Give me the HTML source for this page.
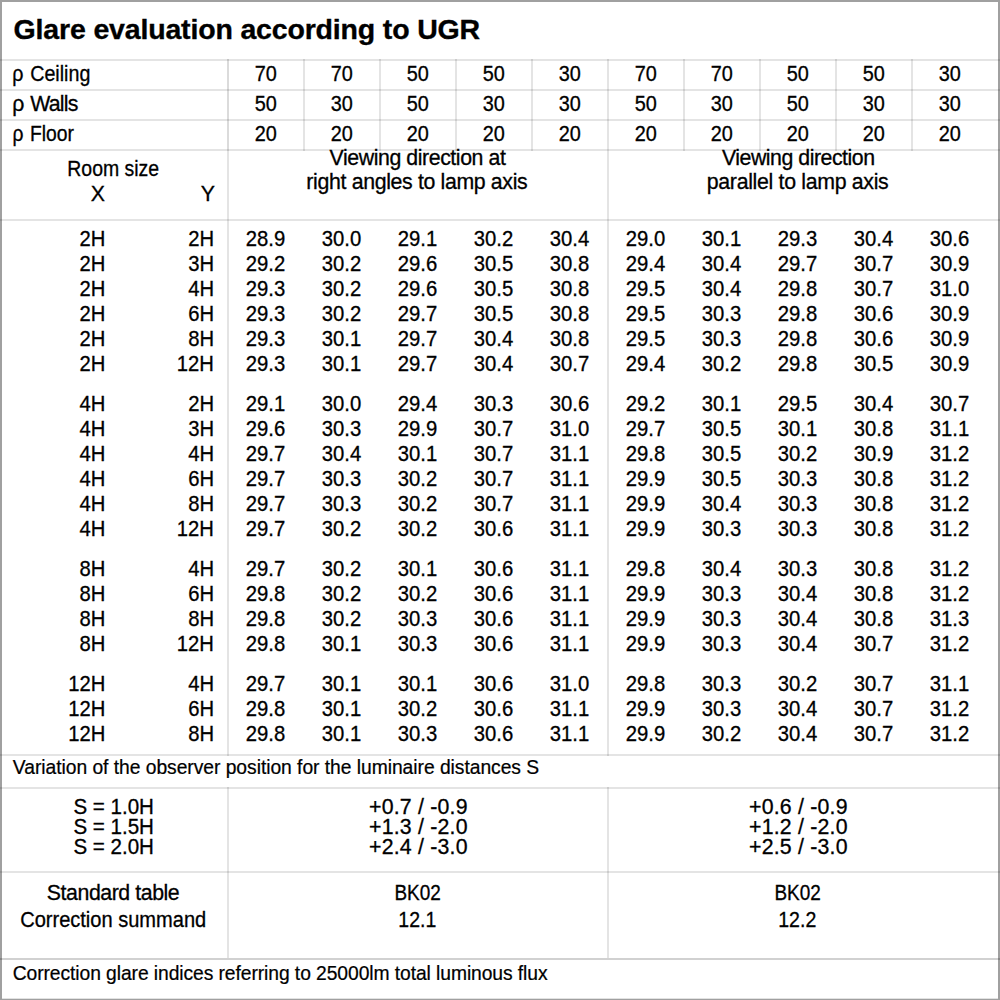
<!DOCTYPE html>
<html lang="en"><head><meta charset="utf-8"><title>Glare evaluation according to UGR</title>
<style>
html,body{margin:0;padding:0;background:#fff}
html{width:1000px;height:1000px;overflow:hidden}
body{width:1000px;height:1000px;position:relative;overflow:hidden;font-family:"Liberation Sans",sans-serif;color:#000}
.fr{position:absolute;background:#a0a0a0}
.h{position:absolute;left:0;width:1000px;height:2px;background:rgba(0,0,0,0.105)}
.v{position:absolute;width:2px;background:rgba(0,0,0,0.105)}
.t{position:absolute;white-space:pre;line-height:24px;height:24px;-webkit-text-stroke:0.3px #000}
.b{font-weight:bold;-webkit-text-stroke:0.35px #000}
</style></head><body>
<div class="fr" style="left:0;top:0;width:1000px;height:2px"></div><div class="fr" style="left:0;top:0;width:2px;height:1000px"></div><div class="fr" style="left:998px;top:0;width:2px;height:1000px"></div><div class="fr" style="left:0;top:999px;width:1000px;height:1px"></div><div class="fr" style="left:2px;top:998px;width:996px;height:1px;opacity:.3"></div>
<div class="h" style="top:59px"></div>
<div class="h" style="top:89px"></div>
<div class="h" style="top:119px"></div>
<div class="h" style="top:149px"></div>
<div class="h" style="top:219px"></div>
<div class="h" style="top:754px"></div>
<div class="h" style="top:787px"></div>
<div class="h" style="top:871px"></div>
<div class="h" style="top:958px;background:rgba(0,0,0,0.18)"></div>
<div class="v" style="left:227px;top:59px;height:697px"></div>
<div class="v" style="left:227px;top:787px;height:171px"></div>
<div class="v" style="left:607px;top:59px;height:697px"></div>
<div class="v" style="left:607px;top:787px;height:171px"></div>
<div class="v" style="left:303px;top:59px;height:92px"></div>
<div class="v" style="left:379px;top:59px;height:92px"></div>
<div class="v" style="left:455px;top:59px;height:92px"></div>
<div class="v" style="left:531px;top:59px;height:92px"></div>
<div class="v" style="left:683px;top:59px;height:92px"></div>
<div class="v" style="left:759px;top:59px;height:92px"></div>
<div class="v" style="left:835px;top:59px;height:92px"></div>
<div class="v" style="left:911px;top:59px;height:92px"></div>
<div class="v" style="left:227px;top:59px;height:92px;background:rgba(0,0,0,0.04)"></div>
<div class="t b" style="font-size:28.5px;top:17px;transform:translateX(-0.40px);transform-origin:0 50%;letter-spacing:-0.168px;left:14px;">Glare evaluation according to UGR</div>
<div class="t" style="font-size:21.3px;top:62px;transform:translateX(-0.67px) scaleX(0.9243);transform-origin:0 50%;word-spacing:1.3px;left:13px;">ρ Ceiling</div>
<div class="t" style="font-size:21.3px;top:92px;transform:translateX(-0.67px);transform-origin:0 50%;letter-spacing:-0.739px;word-spacing:1.3px;left:13px;">ρ Walls</div>
<div class="t" style="font-size:21.3px;top:122px;transform:translateX(-0.62px) scaleX(0.9055);transform-origin:0 50%;word-spacing:1.3px;left:13px;">ρ Floor</div>
<div class="t" style="font-size:21.3px;top:62px;transform:translateX(-0.17px) scaleX(0.9327);transform-origin:50% 50%;left:66px;width:400px;text-align:center;">70</div>
<div class="t" style="font-size:21.3px;top:62px;transform:translateX(-0.17px) scaleX(0.9327);transform-origin:50% 50%;left:142px;width:400px;text-align:center;">70</div>
<div class="t" style="font-size:21.3px;top:62px;transform:translateX(-0.17px) scaleX(0.9327);transform-origin:50% 50%;left:218px;width:400px;text-align:center;">50</div>
<div class="t" style="font-size:21.3px;top:62px;transform:translateX(-0.17px) scaleX(0.9327);transform-origin:50% 50%;left:294px;width:400px;text-align:center;">50</div>
<div class="t" style="font-size:21.3px;top:62px;transform:translateX(-0.17px) scaleX(0.9327);transform-origin:50% 50%;left:370px;width:400px;text-align:center;">30</div>
<div class="t" style="font-size:21.3px;top:62px;transform:translateX(-0.17px) scaleX(0.9327);transform-origin:50% 50%;left:446px;width:400px;text-align:center;">70</div>
<div class="t" style="font-size:21.3px;top:62px;transform:translateX(-0.17px) scaleX(0.9327);transform-origin:50% 50%;left:522px;width:400px;text-align:center;">70</div>
<div class="t" style="font-size:21.3px;top:62px;transform:translateX(-0.17px) scaleX(0.9327);transform-origin:50% 50%;left:599px;width:398px;text-align:center;">50</div>
<div class="t" style="font-size:21.3px;top:62px;transform:translateX(-0.17px) scaleX(0.9327);transform-origin:50% 50%;left:751px;width:246px;text-align:center;">50</div>
<div class="t" style="font-size:21.3px;top:62px;transform:translateX(-0.17px) scaleX(0.9327);transform-origin:50% 50%;left:903px;width:94px;text-align:center;">30</div>
<div class="t" style="font-size:21.3px;top:92px;transform:translateX(-0.17px) scaleX(0.9327);transform-origin:50% 50%;left:66px;width:400px;text-align:center;">50</div>
<div class="t" style="font-size:21.3px;top:92px;transform:translateX(-0.17px) scaleX(0.9327);transform-origin:50% 50%;left:142px;width:400px;text-align:center;">30</div>
<div class="t" style="font-size:21.3px;top:92px;transform:translateX(-0.17px) scaleX(0.9327);transform-origin:50% 50%;left:218px;width:400px;text-align:center;">50</div>
<div class="t" style="font-size:21.3px;top:92px;transform:translateX(-0.17px) scaleX(0.9327);transform-origin:50% 50%;left:294px;width:400px;text-align:center;">30</div>
<div class="t" style="font-size:21.3px;top:92px;transform:translateX(-0.17px) scaleX(0.9327);transform-origin:50% 50%;left:370px;width:400px;text-align:center;">30</div>
<div class="t" style="font-size:21.3px;top:92px;transform:translateX(-0.17px) scaleX(0.9327);transform-origin:50% 50%;left:446px;width:400px;text-align:center;">50</div>
<div class="t" style="font-size:21.3px;top:92px;transform:translateX(-0.17px) scaleX(0.9327);transform-origin:50% 50%;left:522px;width:400px;text-align:center;">30</div>
<div class="t" style="font-size:21.3px;top:92px;transform:translateX(-0.17px) scaleX(0.9327);transform-origin:50% 50%;left:599px;width:398px;text-align:center;">50</div>
<div class="t" style="font-size:21.3px;top:92px;transform:translateX(-0.17px) scaleX(0.9327);transform-origin:50% 50%;left:751px;width:246px;text-align:center;">30</div>
<div class="t" style="font-size:21.3px;top:92px;transform:translateX(-0.17px) scaleX(0.9327);transform-origin:50% 50%;left:903px;width:94px;text-align:center;">30</div>
<div class="t" style="font-size:21.3px;top:122px;transform:translateX(-0.17px) scaleX(0.9327);transform-origin:50% 50%;left:66px;width:400px;text-align:center;">20</div>
<div class="t" style="font-size:21.3px;top:122px;transform:translateX(-0.17px) scaleX(0.9327);transform-origin:50% 50%;left:142px;width:400px;text-align:center;">20</div>
<div class="t" style="font-size:21.3px;top:122px;transform:translateX(-0.17px) scaleX(0.9327);transform-origin:50% 50%;left:218px;width:400px;text-align:center;">20</div>
<div class="t" style="font-size:21.3px;top:122px;transform:translateX(-0.17px) scaleX(0.9327);transform-origin:50% 50%;left:294px;width:400px;text-align:center;">20</div>
<div class="t" style="font-size:21.3px;top:122px;transform:translateX(-0.17px) scaleX(0.9327);transform-origin:50% 50%;left:370px;width:400px;text-align:center;">20</div>
<div class="t" style="font-size:21.3px;top:122px;transform:translateX(-0.17px) scaleX(0.9327);transform-origin:50% 50%;left:446px;width:400px;text-align:center;">20</div>
<div class="t" style="font-size:21.3px;top:122px;transform:translateX(-0.17px) scaleX(0.9327);transform-origin:50% 50%;left:522px;width:400px;text-align:center;">20</div>
<div class="t" style="font-size:21.3px;top:122px;transform:translateX(-0.17px) scaleX(0.9327);transform-origin:50% 50%;left:599px;width:398px;text-align:center;">20</div>
<div class="t" style="font-size:21.3px;top:122px;transform:translateX(-0.17px) scaleX(0.9327);transform-origin:50% 50%;left:751px;width:246px;text-align:center;">20</div>
<div class="t" style="font-size:21.3px;top:122px;transform:translateX(-0.17px) scaleX(0.9327);transform-origin:50% 50%;left:903px;width:94px;text-align:center;">20</div>
<div class="t" style="font-size:21.3px;top:157px;transform:translateX(0.24px) scaleX(0.9128);transform-origin:50% 50%;left:3px;width:220px;text-align:center;">Room size</div>
<div class="t" style="font-size:21.3px;top:182px;transform:translateX(0.85px);transform-origin:100% 50%;right:896px;">X</div>
<div class="t" style="font-size:21.3px;top:182px;transform:translateX(0.86px);transform-origin:100% 50%;right:786px;">Y</div>
<div class="t" style="font-size:21.3px;top:146px;transform:translateX(0.51px);transform-origin:50% 50%;letter-spacing:-0.422px;left:217px;width:400px;text-align:center;">Viewing direction at</div>
<div class="t" style="font-size:21.3px;top:170px;transform:translateX(-0.14px);transform-origin:50% 50%;letter-spacing:-0.346px;left:217px;width:400px;text-align:center;">right angles to lamp axis</div>
<div class="t" style="font-size:21.3px;top:146px;transform:translateX(1.22px);transform-origin:50% 50%;letter-spacing:-0.469px;left:597px;width:400px;text-align:center;">Viewing direction</div>
<div class="t" style="font-size:21.3px;top:170px;transform:translateX(-0.38px);transform-origin:50% 50%;letter-spacing:-0.315px;left:599px;width:398px;text-align:center;">parallel to lamp axis</div>
<div class="t" style="font-size:21.3px;top:227px;transform:translateX(2.23px) scaleX(0.9490);transform-origin:100% 50%;right:897px;">2H</div>
<div class="t" style="font-size:21.3px;top:227px;transform:translateX(1.83px) scaleX(0.9490);transform-origin:100% 50%;right:788px;">2H</div>
<div class="t" style="font-size:21.3px;top:227px;transform:translateX(0.53px) scaleX(0.9517);transform-origin:50% 50%;left:65px;width:400px;text-align:center;">28.9</div>
<div class="t" style="font-size:21.3px;top:227px;transform:translateX(0.53px) scaleX(0.9517);transform-origin:50% 50%;left:141px;width:400px;text-align:center;">30.0</div>
<div class="t" style="font-size:21.3px;top:227px;transform:translateX(0.53px) scaleX(0.9517);transform-origin:50% 50%;left:217px;width:400px;text-align:center;">29.1</div>
<div class="t" style="font-size:21.3px;top:227px;transform:translateX(0.53px) scaleX(0.9517);transform-origin:50% 50%;left:293px;width:400px;text-align:center;">30.2</div>
<div class="t" style="font-size:21.3px;top:227px;transform:translateX(0.53px) scaleX(0.9517);transform-origin:50% 50%;left:369px;width:400px;text-align:center;">30.4</div>
<div class="t" style="font-size:21.3px;top:227px;transform:translateX(0.53px) scaleX(0.9517);transform-origin:50% 50%;left:445px;width:400px;text-align:center;">29.0</div>
<div class="t" style="font-size:21.3px;top:227px;transform:translateX(0.53px) scaleX(0.9517);transform-origin:50% 50%;left:521px;width:400px;text-align:center;">30.1</div>
<div class="t" style="font-size:21.3px;top:227px;transform:translateX(0.53px) scaleX(0.9517);transform-origin:50% 50%;left:597px;width:400px;text-align:center;">29.3</div>
<div class="t" style="font-size:21.3px;top:227px;transform:translateX(0.53px) scaleX(0.9517);transform-origin:50% 50%;left:749px;width:248px;text-align:center;">30.4</div>
<div class="t" style="font-size:21.3px;top:227px;transform:translateX(0.53px) scaleX(0.9517);transform-origin:50% 50%;left:901px;width:96px;text-align:center;">30.6</div>
<div class="t" style="font-size:21.3px;top:252px;transform:translateX(2.23px) scaleX(0.9490);transform-origin:100% 50%;right:897px;">2H</div>
<div class="t" style="font-size:21.3px;top:252px;transform:translateX(1.83px) scaleX(0.9490);transform-origin:100% 50%;right:788px;">3H</div>
<div class="t" style="font-size:21.3px;top:252px;transform:translateX(0.53px) scaleX(0.9517);transform-origin:50% 50%;left:65px;width:400px;text-align:center;">29.2</div>
<div class="t" style="font-size:21.3px;top:252px;transform:translateX(0.53px) scaleX(0.9517);transform-origin:50% 50%;left:141px;width:400px;text-align:center;">30.2</div>
<div class="t" style="font-size:21.3px;top:252px;transform:translateX(0.53px) scaleX(0.9517);transform-origin:50% 50%;left:217px;width:400px;text-align:center;">29.6</div>
<div class="t" style="font-size:21.3px;top:252px;transform:translateX(0.53px) scaleX(0.9517);transform-origin:50% 50%;left:293px;width:400px;text-align:center;">30.5</div>
<div class="t" style="font-size:21.3px;top:252px;transform:translateX(0.53px) scaleX(0.9517);transform-origin:50% 50%;left:369px;width:400px;text-align:center;">30.8</div>
<div class="t" style="font-size:21.3px;top:252px;transform:translateX(0.53px) scaleX(0.9517);transform-origin:50% 50%;left:445px;width:400px;text-align:center;">29.4</div>
<div class="t" style="font-size:21.3px;top:252px;transform:translateX(0.53px) scaleX(0.9517);transform-origin:50% 50%;left:521px;width:400px;text-align:center;">30.4</div>
<div class="t" style="font-size:21.3px;top:252px;transform:translateX(0.53px) scaleX(0.9517);transform-origin:50% 50%;left:597px;width:400px;text-align:center;">29.7</div>
<div class="t" style="font-size:21.3px;top:252px;transform:translateX(0.53px) scaleX(0.9517);transform-origin:50% 50%;left:749px;width:248px;text-align:center;">30.7</div>
<div class="t" style="font-size:21.3px;top:252px;transform:translateX(0.53px) scaleX(0.9517);transform-origin:50% 50%;left:901px;width:96px;text-align:center;">30.9</div>
<div class="t" style="font-size:21.3px;top:277px;transform:translateX(2.23px) scaleX(0.9490);transform-origin:100% 50%;right:897px;">2H</div>
<div class="t" style="font-size:21.3px;top:277px;transform:translateX(1.83px) scaleX(0.9490);transform-origin:100% 50%;right:788px;">4H</div>
<div class="t" style="font-size:21.3px;top:277px;transform:translateX(0.53px) scaleX(0.9517);transform-origin:50% 50%;left:65px;width:400px;text-align:center;">29.3</div>
<div class="t" style="font-size:21.3px;top:277px;transform:translateX(0.53px) scaleX(0.9517);transform-origin:50% 50%;left:141px;width:400px;text-align:center;">30.2</div>
<div class="t" style="font-size:21.3px;top:277px;transform:translateX(0.53px) scaleX(0.9517);transform-origin:50% 50%;left:217px;width:400px;text-align:center;">29.6</div>
<div class="t" style="font-size:21.3px;top:277px;transform:translateX(0.53px) scaleX(0.9517);transform-origin:50% 50%;left:293px;width:400px;text-align:center;">30.5</div>
<div class="t" style="font-size:21.3px;top:277px;transform:translateX(0.53px) scaleX(0.9517);transform-origin:50% 50%;left:369px;width:400px;text-align:center;">30.8</div>
<div class="t" style="font-size:21.3px;top:277px;transform:translateX(0.53px) scaleX(0.9517);transform-origin:50% 50%;left:445px;width:400px;text-align:center;">29.5</div>
<div class="t" style="font-size:21.3px;top:277px;transform:translateX(0.53px) scaleX(0.9517);transform-origin:50% 50%;left:521px;width:400px;text-align:center;">30.4</div>
<div class="t" style="font-size:21.3px;top:277px;transform:translateX(0.53px) scaleX(0.9517);transform-origin:50% 50%;left:597px;width:400px;text-align:center;">29.8</div>
<div class="t" style="font-size:21.3px;top:277px;transform:translateX(0.53px) scaleX(0.9517);transform-origin:50% 50%;left:749px;width:248px;text-align:center;">30.7</div>
<div class="t" style="font-size:21.3px;top:277px;transform:translateX(0.53px) scaleX(0.9517);transform-origin:50% 50%;left:901px;width:96px;text-align:center;">31.0</div>
<div class="t" style="font-size:21.3px;top:302px;transform:translateX(2.23px) scaleX(0.9490);transform-origin:100% 50%;right:897px;">2H</div>
<div class="t" style="font-size:21.3px;top:302px;transform:translateX(1.83px) scaleX(0.9490);transform-origin:100% 50%;right:788px;">6H</div>
<div class="t" style="font-size:21.3px;top:302px;transform:translateX(0.53px) scaleX(0.9517);transform-origin:50% 50%;left:65px;width:400px;text-align:center;">29.3</div>
<div class="t" style="font-size:21.3px;top:302px;transform:translateX(0.53px) scaleX(0.9517);transform-origin:50% 50%;left:141px;width:400px;text-align:center;">30.2</div>
<div class="t" style="font-size:21.3px;top:302px;transform:translateX(0.53px) scaleX(0.9517);transform-origin:50% 50%;left:217px;width:400px;text-align:center;">29.7</div>
<div class="t" style="font-size:21.3px;top:302px;transform:translateX(0.53px) scaleX(0.9517);transform-origin:50% 50%;left:293px;width:400px;text-align:center;">30.5</div>
<div class="t" style="font-size:21.3px;top:302px;transform:translateX(0.53px) scaleX(0.9517);transform-origin:50% 50%;left:369px;width:400px;text-align:center;">30.8</div>
<div class="t" style="font-size:21.3px;top:302px;transform:translateX(0.53px) scaleX(0.9517);transform-origin:50% 50%;left:445px;width:400px;text-align:center;">29.5</div>
<div class="t" style="font-size:21.3px;top:302px;transform:translateX(0.53px) scaleX(0.9517);transform-origin:50% 50%;left:521px;width:400px;text-align:center;">30.3</div>
<div class="t" style="font-size:21.3px;top:302px;transform:translateX(0.53px) scaleX(0.9517);transform-origin:50% 50%;left:597px;width:400px;text-align:center;">29.8</div>
<div class="t" style="font-size:21.3px;top:302px;transform:translateX(0.53px) scaleX(0.9517);transform-origin:50% 50%;left:749px;width:248px;text-align:center;">30.6</div>
<div class="t" style="font-size:21.3px;top:302px;transform:translateX(0.53px) scaleX(0.9517);transform-origin:50% 50%;left:901px;width:96px;text-align:center;">30.9</div>
<div class="t" style="font-size:21.3px;top:327px;transform:translateX(2.23px) scaleX(0.9490);transform-origin:100% 50%;right:897px;">2H</div>
<div class="t" style="font-size:21.3px;top:327px;transform:translateX(1.83px) scaleX(0.9490);transform-origin:100% 50%;right:788px;">8H</div>
<div class="t" style="font-size:21.3px;top:327px;transform:translateX(0.53px) scaleX(0.9517);transform-origin:50% 50%;left:65px;width:400px;text-align:center;">29.3</div>
<div class="t" style="font-size:21.3px;top:327px;transform:translateX(0.53px) scaleX(0.9517);transform-origin:50% 50%;left:141px;width:400px;text-align:center;">30.1</div>
<div class="t" style="font-size:21.3px;top:327px;transform:translateX(0.53px) scaleX(0.9517);transform-origin:50% 50%;left:217px;width:400px;text-align:center;">29.7</div>
<div class="t" style="font-size:21.3px;top:327px;transform:translateX(0.53px) scaleX(0.9517);transform-origin:50% 50%;left:293px;width:400px;text-align:center;">30.4</div>
<div class="t" style="font-size:21.3px;top:327px;transform:translateX(0.53px) scaleX(0.9517);transform-origin:50% 50%;left:369px;width:400px;text-align:center;">30.8</div>
<div class="t" style="font-size:21.3px;top:327px;transform:translateX(0.53px) scaleX(0.9517);transform-origin:50% 50%;left:445px;width:400px;text-align:center;">29.5</div>
<div class="t" style="font-size:21.3px;top:327px;transform:translateX(0.53px) scaleX(0.9517);transform-origin:50% 50%;left:521px;width:400px;text-align:center;">30.3</div>
<div class="t" style="font-size:21.3px;top:327px;transform:translateX(0.53px) scaleX(0.9517);transform-origin:50% 50%;left:597px;width:400px;text-align:center;">29.8</div>
<div class="t" style="font-size:21.3px;top:327px;transform:translateX(0.53px) scaleX(0.9517);transform-origin:50% 50%;left:749px;width:248px;text-align:center;">30.6</div>
<div class="t" style="font-size:21.3px;top:327px;transform:translateX(0.53px) scaleX(0.9517);transform-origin:50% 50%;left:901px;width:96px;text-align:center;">30.9</div>
<div class="t" style="font-size:21.3px;top:352px;transform:translateX(2.23px) scaleX(0.9490);transform-origin:100% 50%;right:897px;">2H</div>
<div class="t" style="font-size:21.3px;top:352px;transform:translateX(1.83px) scaleX(0.9490);transform-origin:100% 50%;right:788px;">12H</div>
<div class="t" style="font-size:21.3px;top:352px;transform:translateX(0.53px) scaleX(0.9517);transform-origin:50% 50%;left:65px;width:400px;text-align:center;">29.3</div>
<div class="t" style="font-size:21.3px;top:352px;transform:translateX(0.53px) scaleX(0.9517);transform-origin:50% 50%;left:141px;width:400px;text-align:center;">30.1</div>
<div class="t" style="font-size:21.3px;top:352px;transform:translateX(0.53px) scaleX(0.9517);transform-origin:50% 50%;left:217px;width:400px;text-align:center;">29.7</div>
<div class="t" style="font-size:21.3px;top:352px;transform:translateX(0.53px) scaleX(0.9517);transform-origin:50% 50%;left:293px;width:400px;text-align:center;">30.4</div>
<div class="t" style="font-size:21.3px;top:352px;transform:translateX(0.53px) scaleX(0.9517);transform-origin:50% 50%;left:369px;width:400px;text-align:center;">30.7</div>
<div class="t" style="font-size:21.3px;top:352px;transform:translateX(0.53px) scaleX(0.9517);transform-origin:50% 50%;left:445px;width:400px;text-align:center;">29.4</div>
<div class="t" style="font-size:21.3px;top:352px;transform:translateX(0.53px) scaleX(0.9517);transform-origin:50% 50%;left:521px;width:400px;text-align:center;">30.2</div>
<div class="t" style="font-size:21.3px;top:352px;transform:translateX(0.53px) scaleX(0.9517);transform-origin:50% 50%;left:597px;width:400px;text-align:center;">29.8</div>
<div class="t" style="font-size:21.3px;top:352px;transform:translateX(0.53px) scaleX(0.9517);transform-origin:50% 50%;left:749px;width:248px;text-align:center;">30.5</div>
<div class="t" style="font-size:21.3px;top:352px;transform:translateX(0.53px) scaleX(0.9517);transform-origin:50% 50%;left:901px;width:96px;text-align:center;">30.9</div>
<div class="t" style="font-size:21.3px;top:392px;transform:translateX(2.23px) scaleX(0.9490);transform-origin:100% 50%;right:897px;">4H</div>
<div class="t" style="font-size:21.3px;top:392px;transform:translateX(1.83px) scaleX(0.9490);transform-origin:100% 50%;right:788px;">2H</div>
<div class="t" style="font-size:21.3px;top:392px;transform:translateX(0.53px) scaleX(0.9517);transform-origin:50% 50%;left:65px;width:400px;text-align:center;">29.1</div>
<div class="t" style="font-size:21.3px;top:392px;transform:translateX(0.53px) scaleX(0.9517);transform-origin:50% 50%;left:141px;width:400px;text-align:center;">30.0</div>
<div class="t" style="font-size:21.3px;top:392px;transform:translateX(0.53px) scaleX(0.9517);transform-origin:50% 50%;left:217px;width:400px;text-align:center;">29.4</div>
<div class="t" style="font-size:21.3px;top:392px;transform:translateX(0.53px) scaleX(0.9517);transform-origin:50% 50%;left:293px;width:400px;text-align:center;">30.3</div>
<div class="t" style="font-size:21.3px;top:392px;transform:translateX(0.53px) scaleX(0.9517);transform-origin:50% 50%;left:369px;width:400px;text-align:center;">30.6</div>
<div class="t" style="font-size:21.3px;top:392px;transform:translateX(0.53px) scaleX(0.9517);transform-origin:50% 50%;left:445px;width:400px;text-align:center;">29.2</div>
<div class="t" style="font-size:21.3px;top:392px;transform:translateX(0.53px) scaleX(0.9517);transform-origin:50% 50%;left:521px;width:400px;text-align:center;">30.1</div>
<div class="t" style="font-size:21.3px;top:392px;transform:translateX(0.53px) scaleX(0.9517);transform-origin:50% 50%;left:597px;width:400px;text-align:center;">29.5</div>
<div class="t" style="font-size:21.3px;top:392px;transform:translateX(0.53px) scaleX(0.9517);transform-origin:50% 50%;left:749px;width:248px;text-align:center;">30.4</div>
<div class="t" style="font-size:21.3px;top:392px;transform:translateX(0.53px) scaleX(0.9517);transform-origin:50% 50%;left:901px;width:96px;text-align:center;">30.7</div>
<div class="t" style="font-size:21.3px;top:417px;transform:translateX(2.23px) scaleX(0.9490);transform-origin:100% 50%;right:897px;">4H</div>
<div class="t" style="font-size:21.3px;top:417px;transform:translateX(1.83px) scaleX(0.9490);transform-origin:100% 50%;right:788px;">3H</div>
<div class="t" style="font-size:21.3px;top:417px;transform:translateX(0.53px) scaleX(0.9517);transform-origin:50% 50%;left:65px;width:400px;text-align:center;">29.6</div>
<div class="t" style="font-size:21.3px;top:417px;transform:translateX(0.53px) scaleX(0.9517);transform-origin:50% 50%;left:141px;width:400px;text-align:center;">30.3</div>
<div class="t" style="font-size:21.3px;top:417px;transform:translateX(0.53px) scaleX(0.9517);transform-origin:50% 50%;left:217px;width:400px;text-align:center;">29.9</div>
<div class="t" style="font-size:21.3px;top:417px;transform:translateX(0.53px) scaleX(0.9517);transform-origin:50% 50%;left:293px;width:400px;text-align:center;">30.7</div>
<div class="t" style="font-size:21.3px;top:417px;transform:translateX(0.53px) scaleX(0.9517);transform-origin:50% 50%;left:369px;width:400px;text-align:center;">31.0</div>
<div class="t" style="font-size:21.3px;top:417px;transform:translateX(0.53px) scaleX(0.9517);transform-origin:50% 50%;left:445px;width:400px;text-align:center;">29.7</div>
<div class="t" style="font-size:21.3px;top:417px;transform:translateX(0.53px) scaleX(0.9517);transform-origin:50% 50%;left:521px;width:400px;text-align:center;">30.5</div>
<div class="t" style="font-size:21.3px;top:417px;transform:translateX(0.53px) scaleX(0.9517);transform-origin:50% 50%;left:597px;width:400px;text-align:center;">30.1</div>
<div class="t" style="font-size:21.3px;top:417px;transform:translateX(0.53px) scaleX(0.9517);transform-origin:50% 50%;left:749px;width:248px;text-align:center;">30.8</div>
<div class="t" style="font-size:21.3px;top:417px;transform:translateX(0.53px) scaleX(0.9517);transform-origin:50% 50%;left:901px;width:96px;text-align:center;">31.1</div>
<div class="t" style="font-size:21.3px;top:442px;transform:translateX(2.23px) scaleX(0.9490);transform-origin:100% 50%;right:897px;">4H</div>
<div class="t" style="font-size:21.3px;top:442px;transform:translateX(1.83px) scaleX(0.9490);transform-origin:100% 50%;right:788px;">4H</div>
<div class="t" style="font-size:21.3px;top:442px;transform:translateX(0.53px) scaleX(0.9517);transform-origin:50% 50%;left:65px;width:400px;text-align:center;">29.7</div>
<div class="t" style="font-size:21.3px;top:442px;transform:translateX(0.53px) scaleX(0.9517);transform-origin:50% 50%;left:141px;width:400px;text-align:center;">30.4</div>
<div class="t" style="font-size:21.3px;top:442px;transform:translateX(0.53px) scaleX(0.9517);transform-origin:50% 50%;left:217px;width:400px;text-align:center;">30.1</div>
<div class="t" style="font-size:21.3px;top:442px;transform:translateX(0.53px) scaleX(0.9517);transform-origin:50% 50%;left:293px;width:400px;text-align:center;">30.7</div>
<div class="t" style="font-size:21.3px;top:442px;transform:translateX(0.53px) scaleX(0.9517);transform-origin:50% 50%;left:369px;width:400px;text-align:center;">31.1</div>
<div class="t" style="font-size:21.3px;top:442px;transform:translateX(0.53px) scaleX(0.9517);transform-origin:50% 50%;left:445px;width:400px;text-align:center;">29.8</div>
<div class="t" style="font-size:21.3px;top:442px;transform:translateX(0.53px) scaleX(0.9517);transform-origin:50% 50%;left:521px;width:400px;text-align:center;">30.5</div>
<div class="t" style="font-size:21.3px;top:442px;transform:translateX(0.53px) scaleX(0.9517);transform-origin:50% 50%;left:597px;width:400px;text-align:center;">30.2</div>
<div class="t" style="font-size:21.3px;top:442px;transform:translateX(0.53px) scaleX(0.9517);transform-origin:50% 50%;left:749px;width:248px;text-align:center;">30.9</div>
<div class="t" style="font-size:21.3px;top:442px;transform:translateX(0.53px) scaleX(0.9517);transform-origin:50% 50%;left:901px;width:96px;text-align:center;">31.2</div>
<div class="t" style="font-size:21.3px;top:467px;transform:translateX(2.23px) scaleX(0.9490);transform-origin:100% 50%;right:897px;">4H</div>
<div class="t" style="font-size:21.3px;top:467px;transform:translateX(1.83px) scaleX(0.9490);transform-origin:100% 50%;right:788px;">6H</div>
<div class="t" style="font-size:21.3px;top:467px;transform:translateX(0.53px) scaleX(0.9517);transform-origin:50% 50%;left:65px;width:400px;text-align:center;">29.7</div>
<div class="t" style="font-size:21.3px;top:467px;transform:translateX(0.53px) scaleX(0.9517);transform-origin:50% 50%;left:141px;width:400px;text-align:center;">30.3</div>
<div class="t" style="font-size:21.3px;top:467px;transform:translateX(0.53px) scaleX(0.9517);transform-origin:50% 50%;left:217px;width:400px;text-align:center;">30.2</div>
<div class="t" style="font-size:21.3px;top:467px;transform:translateX(0.53px) scaleX(0.9517);transform-origin:50% 50%;left:293px;width:400px;text-align:center;">30.7</div>
<div class="t" style="font-size:21.3px;top:467px;transform:translateX(0.53px) scaleX(0.9517);transform-origin:50% 50%;left:369px;width:400px;text-align:center;">31.1</div>
<div class="t" style="font-size:21.3px;top:467px;transform:translateX(0.53px) scaleX(0.9517);transform-origin:50% 50%;left:445px;width:400px;text-align:center;">29.9</div>
<div class="t" style="font-size:21.3px;top:467px;transform:translateX(0.53px) scaleX(0.9517);transform-origin:50% 50%;left:521px;width:400px;text-align:center;">30.5</div>
<div class="t" style="font-size:21.3px;top:467px;transform:translateX(0.53px) scaleX(0.9517);transform-origin:50% 50%;left:597px;width:400px;text-align:center;">30.3</div>
<div class="t" style="font-size:21.3px;top:467px;transform:translateX(0.53px) scaleX(0.9517);transform-origin:50% 50%;left:749px;width:248px;text-align:center;">30.8</div>
<div class="t" style="font-size:21.3px;top:467px;transform:translateX(0.53px) scaleX(0.9517);transform-origin:50% 50%;left:901px;width:96px;text-align:center;">31.2</div>
<div class="t" style="font-size:21.3px;top:492px;transform:translateX(2.23px) scaleX(0.9490);transform-origin:100% 50%;right:897px;">4H</div>
<div class="t" style="font-size:21.3px;top:492px;transform:translateX(1.83px) scaleX(0.9490);transform-origin:100% 50%;right:788px;">8H</div>
<div class="t" style="font-size:21.3px;top:492px;transform:translateX(0.53px) scaleX(0.9517);transform-origin:50% 50%;left:65px;width:400px;text-align:center;">29.7</div>
<div class="t" style="font-size:21.3px;top:492px;transform:translateX(0.53px) scaleX(0.9517);transform-origin:50% 50%;left:141px;width:400px;text-align:center;">30.3</div>
<div class="t" style="font-size:21.3px;top:492px;transform:translateX(0.53px) scaleX(0.9517);transform-origin:50% 50%;left:217px;width:400px;text-align:center;">30.2</div>
<div class="t" style="font-size:21.3px;top:492px;transform:translateX(0.53px) scaleX(0.9517);transform-origin:50% 50%;left:293px;width:400px;text-align:center;">30.7</div>
<div class="t" style="font-size:21.3px;top:492px;transform:translateX(0.53px) scaleX(0.9517);transform-origin:50% 50%;left:369px;width:400px;text-align:center;">31.1</div>
<div class="t" style="font-size:21.3px;top:492px;transform:translateX(0.53px) scaleX(0.9517);transform-origin:50% 50%;left:445px;width:400px;text-align:center;">29.9</div>
<div class="t" style="font-size:21.3px;top:492px;transform:translateX(0.53px) scaleX(0.9517);transform-origin:50% 50%;left:521px;width:400px;text-align:center;">30.4</div>
<div class="t" style="font-size:21.3px;top:492px;transform:translateX(0.53px) scaleX(0.9517);transform-origin:50% 50%;left:597px;width:400px;text-align:center;">30.3</div>
<div class="t" style="font-size:21.3px;top:492px;transform:translateX(0.53px) scaleX(0.9517);transform-origin:50% 50%;left:749px;width:248px;text-align:center;">30.8</div>
<div class="t" style="font-size:21.3px;top:492px;transform:translateX(0.53px) scaleX(0.9517);transform-origin:50% 50%;left:901px;width:96px;text-align:center;">31.2</div>
<div class="t" style="font-size:21.3px;top:517px;transform:translateX(2.23px) scaleX(0.9490);transform-origin:100% 50%;right:897px;">4H</div>
<div class="t" style="font-size:21.3px;top:517px;transform:translateX(1.83px) scaleX(0.9490);transform-origin:100% 50%;right:788px;">12H</div>
<div class="t" style="font-size:21.3px;top:517px;transform:translateX(0.53px) scaleX(0.9517);transform-origin:50% 50%;left:65px;width:400px;text-align:center;">29.7</div>
<div class="t" style="font-size:21.3px;top:517px;transform:translateX(0.53px) scaleX(0.9517);transform-origin:50% 50%;left:141px;width:400px;text-align:center;">30.2</div>
<div class="t" style="font-size:21.3px;top:517px;transform:translateX(0.53px) scaleX(0.9517);transform-origin:50% 50%;left:217px;width:400px;text-align:center;">30.2</div>
<div class="t" style="font-size:21.3px;top:517px;transform:translateX(0.53px) scaleX(0.9517);transform-origin:50% 50%;left:293px;width:400px;text-align:center;">30.6</div>
<div class="t" style="font-size:21.3px;top:517px;transform:translateX(0.53px) scaleX(0.9517);transform-origin:50% 50%;left:369px;width:400px;text-align:center;">31.1</div>
<div class="t" style="font-size:21.3px;top:517px;transform:translateX(0.53px) scaleX(0.9517);transform-origin:50% 50%;left:445px;width:400px;text-align:center;">29.9</div>
<div class="t" style="font-size:21.3px;top:517px;transform:translateX(0.53px) scaleX(0.9517);transform-origin:50% 50%;left:521px;width:400px;text-align:center;">30.3</div>
<div class="t" style="font-size:21.3px;top:517px;transform:translateX(0.53px) scaleX(0.9517);transform-origin:50% 50%;left:597px;width:400px;text-align:center;">30.3</div>
<div class="t" style="font-size:21.3px;top:517px;transform:translateX(0.53px) scaleX(0.9517);transform-origin:50% 50%;left:749px;width:248px;text-align:center;">30.8</div>
<div class="t" style="font-size:21.3px;top:517px;transform:translateX(0.53px) scaleX(0.9517);transform-origin:50% 50%;left:901px;width:96px;text-align:center;">31.2</div>
<div class="t" style="font-size:21.3px;top:557px;transform:translateX(2.23px) scaleX(0.9490);transform-origin:100% 50%;right:897px;">8H</div>
<div class="t" style="font-size:21.3px;top:557px;transform:translateX(1.83px) scaleX(0.9490);transform-origin:100% 50%;right:788px;">4H</div>
<div class="t" style="font-size:21.3px;top:557px;transform:translateX(0.53px) scaleX(0.9517);transform-origin:50% 50%;left:65px;width:400px;text-align:center;">29.7</div>
<div class="t" style="font-size:21.3px;top:557px;transform:translateX(0.53px) scaleX(0.9517);transform-origin:50% 50%;left:141px;width:400px;text-align:center;">30.2</div>
<div class="t" style="font-size:21.3px;top:557px;transform:translateX(0.53px) scaleX(0.9517);transform-origin:50% 50%;left:217px;width:400px;text-align:center;">30.1</div>
<div class="t" style="font-size:21.3px;top:557px;transform:translateX(0.53px) scaleX(0.9517);transform-origin:50% 50%;left:293px;width:400px;text-align:center;">30.6</div>
<div class="t" style="font-size:21.3px;top:557px;transform:translateX(0.53px) scaleX(0.9517);transform-origin:50% 50%;left:369px;width:400px;text-align:center;">31.1</div>
<div class="t" style="font-size:21.3px;top:557px;transform:translateX(0.53px) scaleX(0.9517);transform-origin:50% 50%;left:445px;width:400px;text-align:center;">29.8</div>
<div class="t" style="font-size:21.3px;top:557px;transform:translateX(0.53px) scaleX(0.9517);transform-origin:50% 50%;left:521px;width:400px;text-align:center;">30.4</div>
<div class="t" style="font-size:21.3px;top:557px;transform:translateX(0.53px) scaleX(0.9517);transform-origin:50% 50%;left:597px;width:400px;text-align:center;">30.3</div>
<div class="t" style="font-size:21.3px;top:557px;transform:translateX(0.53px) scaleX(0.9517);transform-origin:50% 50%;left:749px;width:248px;text-align:center;">30.8</div>
<div class="t" style="font-size:21.3px;top:557px;transform:translateX(0.53px) scaleX(0.9517);transform-origin:50% 50%;left:901px;width:96px;text-align:center;">31.2</div>
<div class="t" style="font-size:21.3px;top:582px;transform:translateX(2.23px) scaleX(0.9490);transform-origin:100% 50%;right:897px;">8H</div>
<div class="t" style="font-size:21.3px;top:582px;transform:translateX(1.83px) scaleX(0.9490);transform-origin:100% 50%;right:788px;">6H</div>
<div class="t" style="font-size:21.3px;top:582px;transform:translateX(0.53px) scaleX(0.9517);transform-origin:50% 50%;left:65px;width:400px;text-align:center;">29.8</div>
<div class="t" style="font-size:21.3px;top:582px;transform:translateX(0.53px) scaleX(0.9517);transform-origin:50% 50%;left:141px;width:400px;text-align:center;">30.2</div>
<div class="t" style="font-size:21.3px;top:582px;transform:translateX(0.53px) scaleX(0.9517);transform-origin:50% 50%;left:217px;width:400px;text-align:center;">30.2</div>
<div class="t" style="font-size:21.3px;top:582px;transform:translateX(0.53px) scaleX(0.9517);transform-origin:50% 50%;left:293px;width:400px;text-align:center;">30.6</div>
<div class="t" style="font-size:21.3px;top:582px;transform:translateX(0.53px) scaleX(0.9517);transform-origin:50% 50%;left:369px;width:400px;text-align:center;">31.1</div>
<div class="t" style="font-size:21.3px;top:582px;transform:translateX(0.53px) scaleX(0.9517);transform-origin:50% 50%;left:445px;width:400px;text-align:center;">29.9</div>
<div class="t" style="font-size:21.3px;top:582px;transform:translateX(0.53px) scaleX(0.9517);transform-origin:50% 50%;left:521px;width:400px;text-align:center;">30.3</div>
<div class="t" style="font-size:21.3px;top:582px;transform:translateX(0.53px) scaleX(0.9517);transform-origin:50% 50%;left:597px;width:400px;text-align:center;">30.4</div>
<div class="t" style="font-size:21.3px;top:582px;transform:translateX(0.53px) scaleX(0.9517);transform-origin:50% 50%;left:749px;width:248px;text-align:center;">30.8</div>
<div class="t" style="font-size:21.3px;top:582px;transform:translateX(0.53px) scaleX(0.9517);transform-origin:50% 50%;left:901px;width:96px;text-align:center;">31.2</div>
<div class="t" style="font-size:21.3px;top:607px;transform:translateX(2.23px) scaleX(0.9490);transform-origin:100% 50%;right:897px;">8H</div>
<div class="t" style="font-size:21.3px;top:607px;transform:translateX(1.83px) scaleX(0.9490);transform-origin:100% 50%;right:788px;">8H</div>
<div class="t" style="font-size:21.3px;top:607px;transform:translateX(0.53px) scaleX(0.9517);transform-origin:50% 50%;left:65px;width:400px;text-align:center;">29.8</div>
<div class="t" style="font-size:21.3px;top:607px;transform:translateX(0.53px) scaleX(0.9517);transform-origin:50% 50%;left:141px;width:400px;text-align:center;">30.2</div>
<div class="t" style="font-size:21.3px;top:607px;transform:translateX(0.53px) scaleX(0.9517);transform-origin:50% 50%;left:217px;width:400px;text-align:center;">30.3</div>
<div class="t" style="font-size:21.3px;top:607px;transform:translateX(0.53px) scaleX(0.9517);transform-origin:50% 50%;left:293px;width:400px;text-align:center;">30.6</div>
<div class="t" style="font-size:21.3px;top:607px;transform:translateX(0.53px) scaleX(0.9517);transform-origin:50% 50%;left:369px;width:400px;text-align:center;">31.1</div>
<div class="t" style="font-size:21.3px;top:607px;transform:translateX(0.53px) scaleX(0.9517);transform-origin:50% 50%;left:445px;width:400px;text-align:center;">29.9</div>
<div class="t" style="font-size:21.3px;top:607px;transform:translateX(0.53px) scaleX(0.9517);transform-origin:50% 50%;left:521px;width:400px;text-align:center;">30.3</div>
<div class="t" style="font-size:21.3px;top:607px;transform:translateX(0.53px) scaleX(0.9517);transform-origin:50% 50%;left:597px;width:400px;text-align:center;">30.4</div>
<div class="t" style="font-size:21.3px;top:607px;transform:translateX(0.53px) scaleX(0.9517);transform-origin:50% 50%;left:749px;width:248px;text-align:center;">30.8</div>
<div class="t" style="font-size:21.3px;top:607px;transform:translateX(0.53px) scaleX(0.9517);transform-origin:50% 50%;left:901px;width:96px;text-align:center;">31.3</div>
<div class="t" style="font-size:21.3px;top:632px;transform:translateX(2.23px) scaleX(0.9490);transform-origin:100% 50%;right:897px;">8H</div>
<div class="t" style="font-size:21.3px;top:632px;transform:translateX(1.83px) scaleX(0.9490);transform-origin:100% 50%;right:788px;">12H</div>
<div class="t" style="font-size:21.3px;top:632px;transform:translateX(0.53px) scaleX(0.9517);transform-origin:50% 50%;left:65px;width:400px;text-align:center;">29.8</div>
<div class="t" style="font-size:21.3px;top:632px;transform:translateX(0.53px) scaleX(0.9517);transform-origin:50% 50%;left:141px;width:400px;text-align:center;">30.1</div>
<div class="t" style="font-size:21.3px;top:632px;transform:translateX(0.53px) scaleX(0.9517);transform-origin:50% 50%;left:217px;width:400px;text-align:center;">30.3</div>
<div class="t" style="font-size:21.3px;top:632px;transform:translateX(0.53px) scaleX(0.9517);transform-origin:50% 50%;left:293px;width:400px;text-align:center;">30.6</div>
<div class="t" style="font-size:21.3px;top:632px;transform:translateX(0.53px) scaleX(0.9517);transform-origin:50% 50%;left:369px;width:400px;text-align:center;">31.1</div>
<div class="t" style="font-size:21.3px;top:632px;transform:translateX(0.53px) scaleX(0.9517);transform-origin:50% 50%;left:445px;width:400px;text-align:center;">29.9</div>
<div class="t" style="font-size:21.3px;top:632px;transform:translateX(0.53px) scaleX(0.9517);transform-origin:50% 50%;left:521px;width:400px;text-align:center;">30.3</div>
<div class="t" style="font-size:21.3px;top:632px;transform:translateX(0.53px) scaleX(0.9517);transform-origin:50% 50%;left:597px;width:400px;text-align:center;">30.4</div>
<div class="t" style="font-size:21.3px;top:632px;transform:translateX(0.53px) scaleX(0.9517);transform-origin:50% 50%;left:749px;width:248px;text-align:center;">30.7</div>
<div class="t" style="font-size:21.3px;top:632px;transform:translateX(0.53px) scaleX(0.9517);transform-origin:50% 50%;left:901px;width:96px;text-align:center;">31.2</div>
<div class="t" style="font-size:21.3px;top:672px;transform:translateX(2.23px) scaleX(0.9490);transform-origin:100% 50%;right:897px;">12H</div>
<div class="t" style="font-size:21.3px;top:672px;transform:translateX(1.83px) scaleX(0.9490);transform-origin:100% 50%;right:788px;">4H</div>
<div class="t" style="font-size:21.3px;top:672px;transform:translateX(0.53px) scaleX(0.9517);transform-origin:50% 50%;left:65px;width:400px;text-align:center;">29.7</div>
<div class="t" style="font-size:21.3px;top:672px;transform:translateX(0.53px) scaleX(0.9517);transform-origin:50% 50%;left:141px;width:400px;text-align:center;">30.1</div>
<div class="t" style="font-size:21.3px;top:672px;transform:translateX(0.53px) scaleX(0.9517);transform-origin:50% 50%;left:217px;width:400px;text-align:center;">30.1</div>
<div class="t" style="font-size:21.3px;top:672px;transform:translateX(0.53px) scaleX(0.9517);transform-origin:50% 50%;left:293px;width:400px;text-align:center;">30.6</div>
<div class="t" style="font-size:21.3px;top:672px;transform:translateX(0.53px) scaleX(0.9517);transform-origin:50% 50%;left:369px;width:400px;text-align:center;">31.0</div>
<div class="t" style="font-size:21.3px;top:672px;transform:translateX(0.53px) scaleX(0.9517);transform-origin:50% 50%;left:445px;width:400px;text-align:center;">29.8</div>
<div class="t" style="font-size:21.3px;top:672px;transform:translateX(0.53px) scaleX(0.9517);transform-origin:50% 50%;left:521px;width:400px;text-align:center;">30.3</div>
<div class="t" style="font-size:21.3px;top:672px;transform:translateX(0.53px) scaleX(0.9517);transform-origin:50% 50%;left:597px;width:400px;text-align:center;">30.2</div>
<div class="t" style="font-size:21.3px;top:672px;transform:translateX(0.53px) scaleX(0.9517);transform-origin:50% 50%;left:749px;width:248px;text-align:center;">30.7</div>
<div class="t" style="font-size:21.3px;top:672px;transform:translateX(0.53px) scaleX(0.9517);transform-origin:50% 50%;left:901px;width:96px;text-align:center;">31.1</div>
<div class="t" style="font-size:21.3px;top:697px;transform:translateX(2.23px) scaleX(0.9490);transform-origin:100% 50%;right:897px;">12H</div>
<div class="t" style="font-size:21.3px;top:697px;transform:translateX(1.83px) scaleX(0.9490);transform-origin:100% 50%;right:788px;">6H</div>
<div class="t" style="font-size:21.3px;top:697px;transform:translateX(0.53px) scaleX(0.9517);transform-origin:50% 50%;left:65px;width:400px;text-align:center;">29.8</div>
<div class="t" style="font-size:21.3px;top:697px;transform:translateX(0.53px) scaleX(0.9517);transform-origin:50% 50%;left:141px;width:400px;text-align:center;">30.1</div>
<div class="t" style="font-size:21.3px;top:697px;transform:translateX(0.53px) scaleX(0.9517);transform-origin:50% 50%;left:217px;width:400px;text-align:center;">30.2</div>
<div class="t" style="font-size:21.3px;top:697px;transform:translateX(0.53px) scaleX(0.9517);transform-origin:50% 50%;left:293px;width:400px;text-align:center;">30.6</div>
<div class="t" style="font-size:21.3px;top:697px;transform:translateX(0.53px) scaleX(0.9517);transform-origin:50% 50%;left:369px;width:400px;text-align:center;">31.1</div>
<div class="t" style="font-size:21.3px;top:697px;transform:translateX(0.53px) scaleX(0.9517);transform-origin:50% 50%;left:445px;width:400px;text-align:center;">29.9</div>
<div class="t" style="font-size:21.3px;top:697px;transform:translateX(0.53px) scaleX(0.9517);transform-origin:50% 50%;left:521px;width:400px;text-align:center;">30.3</div>
<div class="t" style="font-size:21.3px;top:697px;transform:translateX(0.53px) scaleX(0.9517);transform-origin:50% 50%;left:597px;width:400px;text-align:center;">30.4</div>
<div class="t" style="font-size:21.3px;top:697px;transform:translateX(0.53px) scaleX(0.9517);transform-origin:50% 50%;left:749px;width:248px;text-align:center;">30.7</div>
<div class="t" style="font-size:21.3px;top:697px;transform:translateX(0.53px) scaleX(0.9517);transform-origin:50% 50%;left:901px;width:96px;text-align:center;">31.2</div>
<div class="t" style="font-size:21.3px;top:722px;transform:translateX(2.23px) scaleX(0.9490);transform-origin:100% 50%;right:897px;">12H</div>
<div class="t" style="font-size:21.3px;top:722px;transform:translateX(1.83px) scaleX(0.9490);transform-origin:100% 50%;right:788px;">8H</div>
<div class="t" style="font-size:21.3px;top:722px;transform:translateX(0.53px) scaleX(0.9517);transform-origin:50% 50%;left:65px;width:400px;text-align:center;">29.8</div>
<div class="t" style="font-size:21.3px;top:722px;transform:translateX(0.53px) scaleX(0.9517);transform-origin:50% 50%;left:141px;width:400px;text-align:center;">30.1</div>
<div class="t" style="font-size:21.3px;top:722px;transform:translateX(0.53px) scaleX(0.9517);transform-origin:50% 50%;left:217px;width:400px;text-align:center;">30.3</div>
<div class="t" style="font-size:21.3px;top:722px;transform:translateX(0.53px) scaleX(0.9517);transform-origin:50% 50%;left:293px;width:400px;text-align:center;">30.6</div>
<div class="t" style="font-size:21.3px;top:722px;transform:translateX(0.53px) scaleX(0.9517);transform-origin:50% 50%;left:369px;width:400px;text-align:center;">31.1</div>
<div class="t" style="font-size:21.3px;top:722px;transform:translateX(0.53px) scaleX(0.9517);transform-origin:50% 50%;left:445px;width:400px;text-align:center;">29.9</div>
<div class="t" style="font-size:21.3px;top:722px;transform:translateX(0.53px) scaleX(0.9517);transform-origin:50% 50%;left:521px;width:400px;text-align:center;">30.2</div>
<div class="t" style="font-size:21.3px;top:722px;transform:translateX(0.53px) scaleX(0.9517);transform-origin:50% 50%;left:597px;width:400px;text-align:center;">30.4</div>
<div class="t" style="font-size:21.3px;top:722px;transform:translateX(0.53px) scaleX(0.9517);transform-origin:50% 50%;left:749px;width:248px;text-align:center;">30.7</div>
<div class="t" style="font-size:21.3px;top:722px;transform:translateX(0.53px) scaleX(0.9517);transform-origin:50% 50%;left:901px;width:96px;text-align:center;">31.2</div>
<div class="t" style="font-size:19.3px;top:756px;transform:translateX(-0.14px);transform-origin:0 50%;letter-spacing:-0.045px;-webkit-text-stroke-width:0.22px;left:13px;">Variation of the observer position for the luminaire distances S</div>
<div class="t" style="font-size:21.3px;top:795px;transform:translateX(0.67px) scaleX(0.9652);transform-origin:50% 50%;left:3px;width:220px;text-align:center;">S = 1.0H</div>
<div class="t" style="font-size:21.3px;top:815px;transform:translateX(0.67px) scaleX(0.9652);transform-origin:50% 50%;left:3px;width:220px;text-align:center;">S = 1.5H</div>
<div class="t" style="font-size:21.3px;top:835px;transform:translateX(0.67px) scaleX(0.9652);transform-origin:50% 50%;left:3px;width:220px;text-align:center;">S = 2.0H</div>
<div class="t" style="font-size:21.3px;top:795px;transform:translateX(0.40px);transform-origin:50% 50%;letter-spacing:0.191px;left:218px;width:400px;text-align:center;">+0.7 / -0.9</div>
<div class="t" style="font-size:21.3px;top:815px;transform:translateX(0.40px);transform-origin:50% 50%;letter-spacing:0.191px;left:218px;width:400px;text-align:center;">+1.3 / -2.0</div>
<div class="t" style="font-size:21.3px;top:835px;transform:translateX(0.40px);transform-origin:50% 50%;letter-spacing:0.191px;left:218px;width:400px;text-align:center;">+2.4 / -3.0</div>
<div class="t" style="font-size:21.3px;top:795px;transform:translateX(0.40px);transform-origin:50% 50%;letter-spacing:0.191px;left:599px;width:398px;text-align:center;">+0.6 / -0.9</div>
<div class="t" style="font-size:21.3px;top:815px;transform:translateX(0.40px);transform-origin:50% 50%;letter-spacing:0.191px;left:599px;width:398px;text-align:center;">+1.2 / -2.0</div>
<div class="t" style="font-size:21.3px;top:835px;transform:translateX(0.40px);transform-origin:50% 50%;letter-spacing:0.191px;left:599px;width:398px;text-align:center;">+2.5 / -3.0</div>
<div class="t" style="font-size:21.3px;top:881px;transform:translateX(0.05px);transform-origin:50% 50%;letter-spacing:-0.437px;left:3px;width:220px;text-align:center;">Standard table</div>
<div class="t" style="font-size:21.3px;top:908px;transform:translateX(0.19px) scaleX(0.9412);transform-origin:50% 50%;left:3px;width:220px;text-align:center;">Correction summand</div>
<div class="t" style="font-size:21.3px;top:881px;transform:translateX(-0.40px) scaleX(0.8902);transform-origin:50% 50%;left:218px;width:400px;text-align:center;">BK02</div>
<div class="t" style="font-size:21.3px;top:881px;transform:translateX(-0.40px) scaleX(0.8902);transform-origin:50% 50%;left:599px;width:398px;text-align:center;">BK02</div>
<div class="t" style="font-size:21.3px;top:908px;transform:translateX(0.28px) scaleX(0.9148);transform-origin:50% 50%;left:217px;width:400px;text-align:center;">12.1</div>
<div class="t" style="font-size:21.3px;top:908px;transform:translateX(0.25px) scaleX(0.9183);transform-origin:50% 50%;left:597px;width:400px;text-align:center;">12.2</div>
<div class="t" style="font-size:19.3px;top:962px;transform:translateX(-0.35px);transform-origin:0 50%;letter-spacing:-0.081px;-webkit-text-stroke-width:0.22px;left:13px;">Correction glare indices referring to 25000lm total luminous flux</div>
</body></html>
